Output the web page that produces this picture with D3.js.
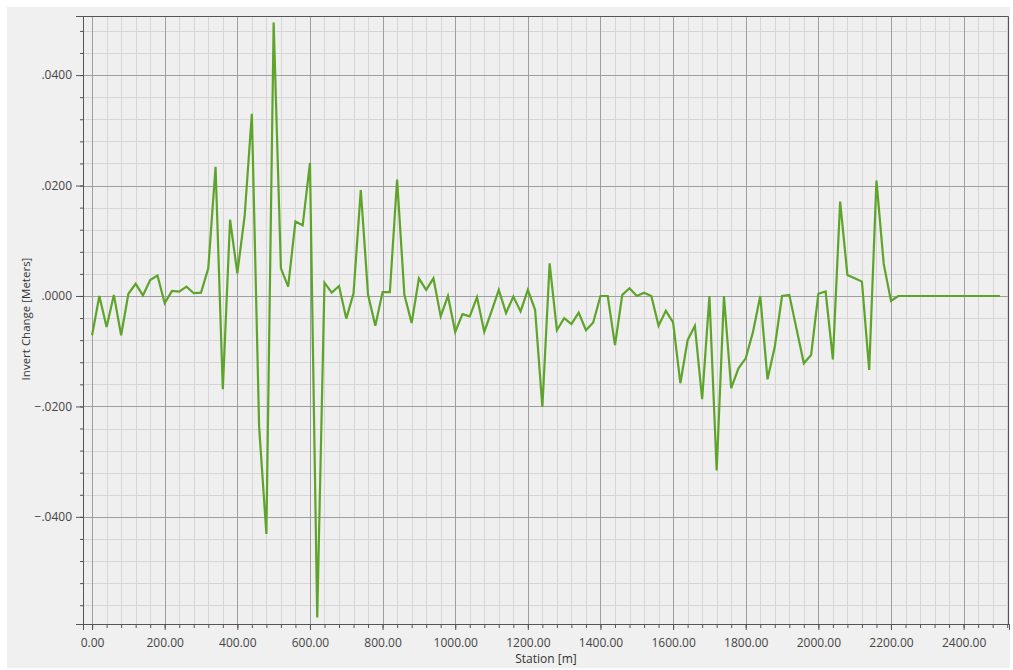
<!DOCTYPE html>
<html>
<head>
<meta charset="utf-8">
<script src="https://cdn.jsdelivr.net/npm/d3@7"></script>
<style>
    body { margin: 0; background: #fff; }
    text { font-family: "Open Sans", sans-serif; }
</style>
</head>
<body>
<script>

// station [m] of every profile point
var stations = [0, 20, 40, 60, 80, 100, 120, 140, 160, 180,
    200, 220, 240, 260, 280, 300, 320, 340, 360, 380,
    400, 420, 440, 460, 480, 500, 520, 540, 560, 580,
    600, 620, 640, 660, 680, 700, 720, 740, 760, 780,
    800, 820, 840, 860, 880, 900, 920, 940, 960, 980,
    1000, 1020, 1040, 1060, 1080, 1100, 1120, 1140, 1160, 1180,
    1200, 1220, 1240, 1260, 1280, 1300, 1320, 1340, 1360, 1380,
    1400, 1420, 1440, 1460, 1480, 1500, 1520, 1540, 1560, 1580,
    1600, 1620, 1640, 1660, 1680, 1700, 1720, 1740, 1760, 1780,
    1800, 1820, 1840, 1860, 1880, 1900, 1920, 1940, 1960, 1980,
    2000, 2020, 2040, 2060, 2080, 2100, 2120, 2140, 2160, 2180,
    2200, 2220, 2240, 2260, 2280, 2300, 2320, 2340, 2360, 2380,
    2400, 2420, 2440, 2460, 2480, 2500];

// invert change [m] at each station
var invertChange = [-0.0071, 0.0000, -0.0056, 0.0002, -0.0071, 0.0004, 0.0022, 0.0001, 0.0029, 0.0037,
    -0.0013, 0.0009, 0.0008, 0.0017, 0.0005, 0.0006, 0.0050, 0.0234, -0.0169, 0.0138,
    0.0041, 0.0144, 0.0330, -0.0237, -0.0431, 0.0495, 0.0050, 0.0017, 0.0135, 0.0128,
    0.0241, -0.0582, 0.0024, 0.0006, 0.0018, -0.0041, 0.0005, 0.0192, 0.0002, -0.0054,
    0.0007, 0.0007, 0.0211, 0.0002, -0.0049, 0.0032, 0.0011, 0.0032, -0.0037, 0.0000,
    -0.0065, -0.0033, -0.0037, -0.0002, -0.0065, -0.0028, 0.0011, -0.0031, -0.0001, -0.0028,
    0.0011, -0.0025, -0.0201, 0.0059, -0.0062, -0.0040, -0.0051, -0.0030, -0.0062, -0.0048,
    0.0000, 0.0000, -0.0089, 0.0002, 0.0014, 0.0000, 0.0006, 0.0000, -0.0054, -0.0027,
    -0.0048, -0.0158, -0.0080, -0.0054, -0.0187, 0.0000, -0.0316, 0.0000, -0.0167, -0.0131,
    -0.0113, -0.0065, 0.0000, -0.0151, -0.0092, 0.0000, 0.0002, -0.0060, -0.0122, -0.0107,
    0.0004, 0.0008, -0.0115, 0.0171, 0.0038, 0.0032, 0.0026, -0.0134, 0.0209, 0.0058,
    -0.0009, 0.0000, 0.0000, 0.0000, 0.0000, 0.0000, 0.0000, 0.0000, 0.0000, 0.0000,
    0.0000, 0.0000, 0.0000, 0.0000, 0.0000, 0.0000];

var xTickValues = [0, 200, 400, 600, 800, 1000, 1200, 1400, 1600, 1800, 2000, 2200, 2400];
var yTickValues = [-0.04, -0.02, 0, 0.02, 0.04];

var margin = {top: 16, right: 4, bottom: 46, left: 83},
    width = 1013 - margin.left - margin.right,
    height = 670 - margin.top - margin.bottom;

var svg0 = d3.select("body").append("svg")
    .attr("width", 1013)
    .attr("height", 670);

// grey panel behind everything
svg0.append("rect")
    .attr("x", 7).attr("y", 7)
    .attr("width", 1003).attr("height", 661)
    .attr("fill", "#f0f0f0");

var svg = svg0.append("g")
    .attr("transform", "translate(" + margin.left + "," + margin.top + ")");

var x = d3.scaleLinear().domain([-25, 2525]).range([0, width]);
var y = d3.scaleLinear().domain([-0.0594, 0.0507]).range([height, 0]);

var xMinor = d3.range(0, 2521, 40);
var yMinor = d3.range(-14, 13).map(function (i) { return i * 0.004; });

svg.append("rect")
    .attr("width", width).attr("height", height)
    .attr("fill", "#efefef");

// minor grid
svg.append("g").selectAll("line")
    .data(xMinor).enter().append("line")
    .attr("x1", function (d) { return Math.round(x(d)) + 0.5; })
    .attr("x2", function (d) { return Math.round(x(d)) + 0.5; })
    .attr("y1", 0).attr("y2", height)
    .attr("stroke", "#d6d6d6");
svg.append("g").selectAll("line")
    .data(yMinor).enter().append("line")
    .attr("y1", function (d) { return Math.round(y(d)) + 0.5; })
    .attr("y2", function (d) { return Math.round(y(d)) + 0.5; })
    .attr("x1", 0).attr("x2", width)
    .attr("stroke", "#d6d6d6");

// major grid
svg.append("g").selectAll("line")
    .data(xTickValues).enter().append("line")
    .attr("x1", function (d) { return Math.round(x(d)) + 0.5; })
    .attr("x2", function (d) { return Math.round(x(d)) + 0.5; })
    .attr("y1", 0).attr("y2", height)
    .attr("stroke", "#9f9f9f");
svg.append("g").selectAll("line")
    .data(yTickValues).enter().append("line")
    .attr("y1", function (d) { return Math.round(y(d)) + 0.5; })
    .attr("y2", function (d) { return Math.round(y(d)) + 0.5; })
    .attr("x1", 0).attr("x2", width)
    .attr("stroke", "#9f9f9f");

// the profile line
var data = stations.map(function (s, i) { return {s: s, v: invertChange[i]}; });
var line = d3.line()
    .x(function (d) { return x(d.s); })
    .y(function (d) { return y(d.v); });

svg.append("path")
    .datum(data)
    .attr("fill", "none")
    .attr("stroke", "#5ea32a")
    .attr("stroke-width", 2.2)
    .attr("d", line);

// frame top / right
svg.append("path")
    .attr("d", "M0,0.5H" + (width - 0.5) + "V" + height)
    .attr("fill", "none")
    .attr("stroke", "#555");

// axes
var fmtY = function (d) { return d3.format(".4f")(d).replace("0.", "."); };

svg.append("g")
    .attr("transform", "translate(0," + height + ")")
    .call(d3.axisBottom(x).tickValues(xMinor).tickSize(4).tickFormat(""));
var gx = svg.append("g")
    .attr("transform", "translate(0," + height + ")")
    .call(d3.axisBottom(x).tickValues(xTickValues).tickSize(6).tickPadding(8).tickFormat(d3.format(".2f")));

svg.append("g")
    .call(d3.axisLeft(y).tickValues(yMinor).tickSize(3).tickFormat(""));
var gy = svg.append("g")
    .call(d3.axisLeft(y).tickValues(yTickValues).tickSize(7).tickPadding(4).tickFormat(fmtY));

svg.selectAll(".domain").attr("stroke", "#555");
svg.selectAll(".tick line").attr("stroke", "#555");
svg.selectAll(".tick text").attr("fill", "#444").style("font-size", "12px");

// axis titles
svg.append("text")
    .attr("x", width / 2)
    .attr("y", height + 39)
    .attr("text-anchor", "middle")
    .attr("fill", "#333")
    .style("font-size", "12px")
    .text("Station [m]");

svg.append("text")
    .attr("transform", "translate(-53," + (height / 2 - 1) + ") rotate(-90)")
    .attr("text-anchor", "middle")
    .attr("fill", "#333")
    .style("font-size", "11.5px")
    .text("Invert Change [Meters]");

</script>
</body>
</html>
